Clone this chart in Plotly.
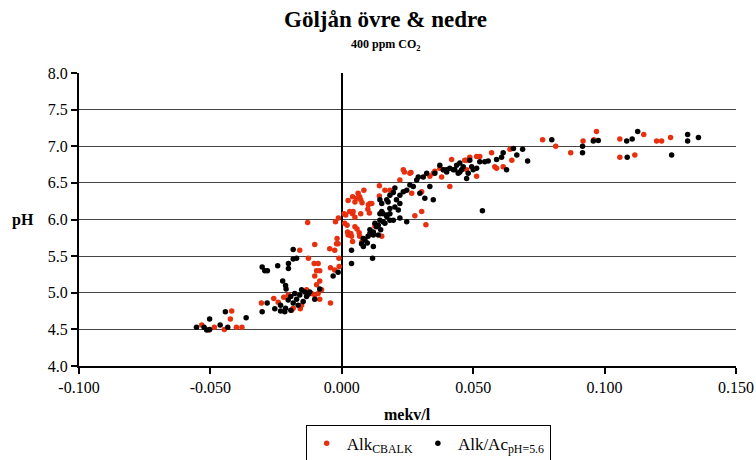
import plotly.graph_objects as go

# ---- data (mekv/l, pH) ----
cbalk_pts = [
    (-0.0533, 4.56), (-0.0505, 4.49), (-0.0485, 4.53), (-0.0447, 4.50), (-0.0424, 4.64),
    (-0.0419, 4.75), (-0.0401, 4.53), (-0.0380, 4.53),
    (-0.0306, 4.86), (-0.0259, 4.92), (-0.0242, 4.87), (-0.0221, 4.94), (-0.0191, 4.76),
    (-0.0158, 4.78), (-0.0204, 4.97), (-0.0185, 4.79), (-0.0153, 4.83), (-0.0134, 5.04),
    (-0.0115, 4.99), (-0.0103, 4.97), (-0.0090, 4.99), (-0.0077, 5.04), (-0.0084, 4.91),
    (-0.0043, 4.86),
    (-0.0160, 5.58), (-0.0127, 5.47), (-0.0105, 5.40), (-0.0090, 5.40), (-0.0103, 5.23),
    (-0.0096, 5.30), (-0.0084, 5.30), (-0.0084, 5.16), (-0.0096, 5.11), (-0.0103, 5.66),
    (-0.0046, 5.60), (-0.0020, 5.67), (-0.0011, 5.47), (-0.0010, 5.36), (-0.0043, 5.34),
    (-0.0027, 5.31), (-0.0130, 5.96), (-0.0024, 5.97), (-0.0018, 5.74), (-0.0013, 6.02),
    (-0.0014, 5.67), (-0.0027, 5.58),
    (0.0009, 6.08), (0.0011, 5.95), (0.0015, 6.06), (0.0030, 6.11), (0.0041, 6.08),
    (0.0022, 5.83), (0.0024, 5.79), (0.0034, 5.81), (0.0050, 5.90), (0.0058, 5.87),
    (0.0066, 5.82), (0.0068, 5.77), (0.0077, 5.70), (0.0072, 6.08), (0.0041, 6.31),
    (0.0024, 6.26), (0.0050, 6.24), (0.0072, 6.27), (0.0077, 6.23), (0.0084, 6.40),
    (0.0068, 6.31), (0.0099, 6.14), (0.0107, 6.22), (0.0105, 6.09), (0.0143, 6.46),
    (0.0062, 6.36), (0.0056, 6.29), (0.0043, 6.11), (0.0050, 6.03), (0.0101, 6.20),
    (0.0114, 6.22), (0.0143, 6.32), (0.0164, 6.40), (0.0183, 6.40), (0.0221, 6.54),
    (0.0238, 6.65), (0.0263, 6.64), (0.0266, 6.36), (0.0304, 6.11), (0.0278, 6.05),
    (0.0320, 5.93), (0.0304, 6.38), (0.0152, 5.77), (0.0037, 5.77), (0.0041, 5.70),
    (0.0020, 5.92), (0.0411, 6.45), (0.0380, 6.58), (0.0348, 6.63), (0.0418, 6.82),
    (0.0475, 6.81), (0.0373, 6.70), (0.0335, 6.59), (0.0126, 5.91), (0.0234, 6.68),
    (0.0259, 6.63), (0.0354, 6.66),
    (0.0468, 6.81), (0.0487, 6.85), (0.0513, 6.86), (0.0525, 6.86), (0.0570, 6.91),
    (0.0582, 6.72), (0.0589, 6.70), (0.0614, 6.72), (0.0640, 6.96), (0.0647, 6.81),
    (0.0513, 6.59), (0.0386, 6.68), (0.0475, 6.68),
    (0.0764, 7.09), (0.0814, 7.00), (0.0871, 6.91), (0.0918, 7.07), (0.0969, 7.20),
    (0.0959, 7.09), (0.1058, 7.10), (0.1058, 6.85), (0.1115, 6.88), (0.1149, 7.16),
    (0.1198, 7.07), (0.1217, 7.07), (0.1251, 7.12),
]

alkac_pts = [
    (-0.0553, 4.53), (-0.0524, 4.53), (-0.0514, 4.49), (-0.0503, 4.50), (-0.0503, 4.64),
    (-0.0463, 4.56), (-0.0443, 4.74), (-0.0434, 4.53), (-0.0364, 4.66), (-0.0303, 4.74),
    (-0.0284, 4.86),
    (-0.0303, 5.35), (-0.0293, 5.30), (-0.0283, 5.30), (-0.0244, 5.37), (-0.0203, 5.40),
    (-0.0203, 5.33), (-0.0185, 5.59), (-0.0185, 5.46), (-0.0172, 5.47), (-0.0225, 5.16),
    (-0.0214, 5.10), (-0.0212, 5.05),
    (-0.0255, 4.78), (-0.0233, 4.83), (-0.0233, 4.75), (-0.0214, 4.79), (-0.0204, 4.90),
    (-0.0194, 4.95), (-0.0185, 4.86), (-0.0179, 4.99), (-0.0172, 4.91), (-0.0166, 4.83),
    (-0.0160, 4.97), (-0.0153, 5.04), (-0.0147, 4.88), (-0.0141, 5.01), (-0.0134, 4.95),
    (-0.0128, 4.98), (-0.0122, 5.01), (-0.0103, 4.91), (-0.0084, 5.05), (-0.0194, 4.76),
    (-0.0217, 4.74),
    (-0.0033, 5.23), (-0.0014, 5.28),
    (0.0037, 5.58), (0.0037, 5.40), (0.0117, 5.47), (0.0075, 5.67), (0.0097, 5.68),
    (0.0082, 5.74), (0.0107, 5.81), (0.0120, 5.83), (0.0132, 5.90), (0.0145, 5.99),
    (0.0126, 5.95), (0.0157, 6.08), (0.0145, 6.08), (0.0171, 6.04), (0.0164, 5.95),
    (0.0183, 6.08), (0.0196, 5.99), (0.0171, 6.27), (0.0183, 6.33), (0.0152, 6.22),
    (0.0202, 6.17), (0.0196, 6.37), (0.0148, 5.86), (0.0139, 5.79),
    (0.0088, 5.72), (0.0100, 5.77), (0.0107, 5.86), (0.0120, 5.79), (0.0139, 5.92),
    (0.0157, 5.97), (0.0152, 6.11), (0.0171, 6.06), (0.0183, 6.15), (0.0208, 6.27),
    (0.0215, 6.13), (0.0221, 6.33), (0.0234, 6.38), (0.0247, 6.40), (0.0259, 6.47),
    (0.0272, 6.45), (0.0285, 6.54), (0.0291, 6.58), (0.0310, 6.58), (0.0323, 6.63),
    (0.0335, 6.45), (0.0348, 6.27), (0.0316, 6.29), (0.0297, 6.36), (0.0221, 6.22),
    (0.0145, 6.27), (0.0176, 6.24), (0.0202, 6.43), (0.0386, 6.68), (0.0399, 6.65),
    (0.0411, 6.70), (0.0430, 6.68), (0.0437, 6.74), (0.0449, 6.65), (0.0462, 6.72),
    (0.0475, 6.56), (0.0481, 6.63), (0.0373, 6.74), (0.0354, 6.63), (0.0247, 5.97),
    (0.0221, 6.02), (0.0183, 5.99), (0.0120, 5.63), (0.0082, 5.63),
    (0.0399, 6.68), (0.0424, 6.68), (0.0443, 6.63), (0.0456, 6.68), (0.0487, 6.81),
    (0.0494, 6.72), (0.0500, 6.68), (0.0513, 6.70), (0.0525, 6.79), (0.0544, 6.79),
    (0.0557, 6.80), (0.0589, 6.82), (0.0608, 6.85), (0.0614, 6.91), (0.0627, 6.68),
    (0.0653, 6.97), (0.0666, 6.88), (0.0688, 6.96), (0.0707, 6.80), (0.0799, 7.09),
    (0.0535, 6.12), (0.0449, 6.77),
    (0.0916, 7.00), (0.0916, 6.91), (0.0957, 7.07), (0.0976, 7.08), (0.1084, 7.07),
    (0.1086, 6.85), (0.1105, 7.10), (0.1126, 7.20), (0.1255, 6.88), (0.1316, 7.16),
    (0.1316, 7.07), (0.1357, 7.12),
]

x_ticks = [-0.10, -0.05, 0.0, 0.05, 0.10, 0.15]
x_tick_labels = ["-0.100", "-0.050", "0.000", "0.050", "0.100", "0.150"]
y_ticks = [4.0, 4.5, 5.0, 5.5, 6.0, 6.5, 7.0, 7.5, 8.0]
y_tick_labels = ["4.0", "4.5", "5.0", "5.5", "6.0", "6.5", "7.0", "7.5", "8.0"]

FONT = "Liberation Serif, Times New Roman, serif"
RED = "#E8300E"

fig = go.Figure()
fig.add_trace(go.Scatter(
    x=[p[0] for p in cbalk_pts], y=[p[1] for p in cbalk_pts],
    mode="markers", name="Alk<sub>CBALK</sub>",
    marker=dict(color=RED, size=5.5, line=dict(width=0)),
))
fig.add_trace(go.Scatter(
    x=[p[0] for p in alkac_pts], y=[p[1] for p in alkac_pts],
    mode="markers", name="Alk/Ac<sub>pH=5.6</sub>",
    marker=dict(color="black", size=5.5, line=dict(width=0)),
))

fig.update_layout(
    width=756, height=460,
    margin=dict(l=79, r=20, t=73, b=94, autoexpand=False),
    paper_bgcolor="white", plot_bgcolor="white",
    font=dict(family=FONT, color="black", size=16),
    showlegend=True,
    legend=dict(
        orientation="h", x=0.345, xanchor="left", y=-0.2, yanchor="top",
        bordercolor="black", borderwidth=1, bgcolor="white",
        font=dict(family=FONT, size=17, color="black"),
        itemsizing="trace", tracegroupgap=0, itemwidth=30,
    ),
    xaxis=dict(
        range=[-0.1, 0.15], tickvals=x_ticks, ticktext=x_tick_labels,
        showgrid=False, zeroline=True, zerolinecolor="black", zerolinewidth=2,
        showline=True, linecolor="black", linewidth=2,
        ticks="outside", ticklen=6, tickwidth=1.5, tickcolor="black",
        tickfont=dict(family=FONT, size=16),
    ),
    yaxis=dict(
        range=[4.0, 8.0], tickvals=y_ticks, ticktext=y_tick_labels,
        showgrid=True, gridcolor="#444444", gridwidth=1,
        zeroline=False, showline=True, linecolor="black", linewidth=2,
        ticks="outside", ticklen=6, tickwidth=1.5, tickcolor="black",
        tickfont=dict(family=FONT, size=16),
    ),
    annotations=[
        dict(text="<b>Göljån övre & nedre</b>", xref="paper", yref="paper",
             x=0.467, y=1.181, xanchor="center", yanchor="middle", showarrow=False,
             font=dict(family=FONT, size=23)),
        dict(text="<b>400 ppm CO<sub>2</sub></b>", xref="paper", yref="paper",
             x=0.467, y=1.097, xanchor="center", yanchor="middle", showarrow=False,
             font=dict(family=FONT, size=12)),
        dict(text="<b>pH</b>", xref="paper", yref="paper",
             x=-0.085, y=0.50, xanchor="center", yanchor="middle", showarrow=False,
             font=dict(family=FONT, size=16)),
        dict(text="<b>mekv/l</b>", xref="paper", yref="paper",
             x=0.5, y=-0.165, xanchor="center", yanchor="middle", showarrow=False,
             font=dict(family=FONT, size=16)),
    ],
)

fig.write_html("out.html")
